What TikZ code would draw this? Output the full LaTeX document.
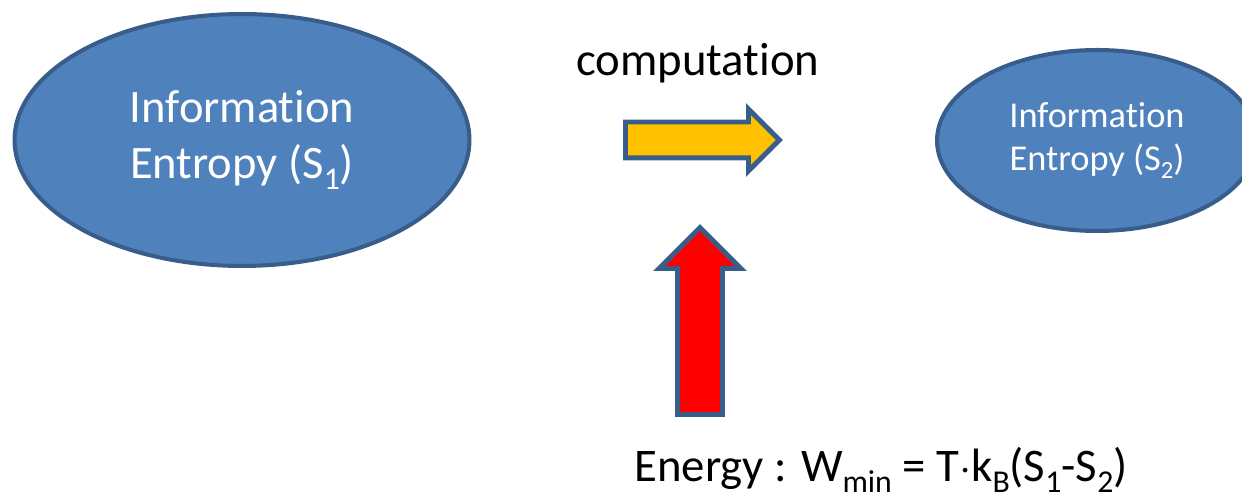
\documentclass[tikz,border=0pt]{standalone}
\usepackage{fontspec}
\setmainfont{Carlito}[Ligatures=NoCommon]
\usepackage{xcolor}
\usetikzlibrary{arrows.meta, positioning, shapes.geometric, shapes.arrows}

\definecolor{infoblue}{HTML}{4F81BD}
\definecolor{infoedge}{HTML}{385D8A}
\definecolor{compyellow}{HTML}{FFC000}

% subscript as the slide sets it: smaller and dropped well below the line
\newcommand{\lowsub}[1]{\raisebox{-0.22em}{\scalebox{0.68}{#1}}}

\begin{document}
\begin{tikzpicture}[
    x=0.02cm, y=-0.02cm,
    entropy/.style={ellipse, draw=infoedge, fill=infoblue, line width=2.3pt,
      text=white, align=center, inner sep=0pt},
    blockarrow/.style={single arrow, draw=infoedge, line width=2.8pt,
      inner sep=0pt, single arrow tip angle=90, anchor=tail}
  ]
  % canvas in pixels of the original slide: 1242 x 499, y grows downwards
  \useasboundingbox (0,0) rectangle (1242,499);

  % ── Entropy before and after ──────────────────────────────────────────
  \node[entropy, minimum width=9.1cm, minimum height=5.04cm,
        font=\fontsize{26.5}{32}\selectfont] (s1) at (242,140)
        {Information\\Entropy (S\lowsub{1})};
  \node[entropy, minimum width=6.4cm, minimum height=3.62cm,
        font=\fontsize{20.7}{25}\selectfont] (s2) at (1097,140.5)
        {Information\\Entropy (S\lowsub{2})};

  % ── Computation step ─────────────────────────────────────────────────
  \node[blockarrow, fill=compyellow, shape border rotate=0,
        minimum height=3.08cm, inner ysep=0.31cm,
        single arrow head extend=0.26cm] (comp) at (623,140) {};
  \node[font=\fontsize{26.6}{32}\selectfont, anchor=base] (comptext)
        at (698,76) {computation};

  % ── Energy spent (Landauer bound) ────────────────────────────────────
  % rotated by 90, so the shaft width comes from inner xsep
  \node[blockarrow, fill=red, shape border rotate=90,
        minimum height=3.74cm, inner xsep=0.4cm,
        single arrow head extend=0.37cm] (energy) at (700,417) {};
  \node[font=\fontsize{26.6}{32}\selectfont, anchor=base] (energytext)
        at (881,482)
        {Energy : W\lowsub{min} = T$\cdot$k\lowsub{B}(S\lowsub{1}-S\lowsub{2})};

\end{tikzpicture}
\end{document}
